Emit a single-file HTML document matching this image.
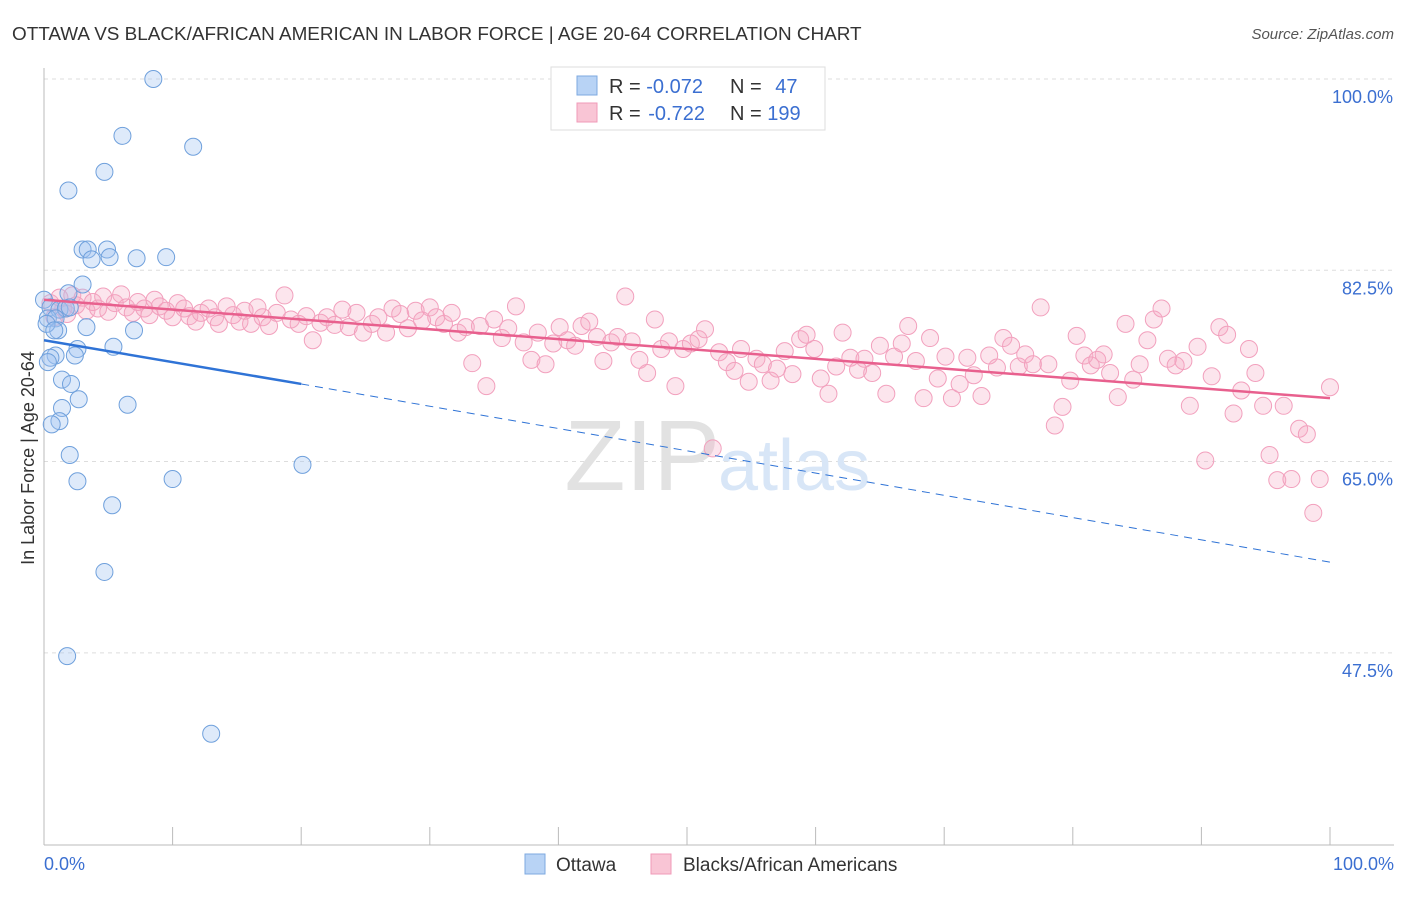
<!DOCTYPE html>
<html><head><meta charset="utf-8"><style>
body{margin:0;background:#fff;font-family:"Liberation Sans",sans-serif}
svg text{font-family:"Liberation Sans",sans-serif}
</style></head><body>
<svg id="chart" width="1406" height="892">
<text x="12" y="40" font-size="18.9" fill="#333">OTTAWA VS BLACK/AFRICAN AMERICAN IN LABOR FORCE | AGE 20-64 CORRELATION CHART</text>
<text x="1394" y="39" font-size="15" fill="#555" font-style="italic" text-anchor="end">Source: ZipAtlas.com</text>
<text x="34" y="458" font-size="18" fill="#333" text-anchor="middle" transform="rotate(-90 34 458)">In Labor Force | Age 20-64</text>
<g id="grid"></g>
<text x="720" y="490" font-size="100" fill="#e2e2e2" font-family="Liberation Serif" text-anchor="end">ZIP</text>
<text x="718" y="490" font-size="72" fill="#d8e6f7">atlas</text>
<g id="marks"></g>
<g>
<rect x="551" y="67" width="274" height="63" fill="#fff" stroke="#ddd"/>
<rect x="577" y="76" width="20" height="19" fill="#b8d3f5" stroke="#7ea9e0"/>
<rect x="577" y="103" width="20" height="19" fill="#f9c5d5" stroke="#f09ab8"/>
<text x="609" y="93" font-size="20" fill="#333">R = <tspan fill="#3b6fd1">-0.072</tspan></text>
<text x="730" y="93" font-size="20" fill="#333">N = <tspan fill="#3b6fd1" dx="8">47</tspan></text>
<text x="609" y="120" font-size="20" fill="#333">R = <tspan fill="#3b6fd1" dx="2">-0.722</tspan></text>
<text x="730" y="120" font-size="20" fill="#333">N = <tspan fill="#3b6fd1">199</tspan></text>
</g>
<g>
<rect x="525" y="854" width="20" height="20" fill="#b8d3f5" stroke="#7ea9e0"/>
<text x="556" y="871" font-size="19" fill="#333">Ottawa</text>
<rect x="651" y="854" width="20" height="20" fill="#f9c5d5" stroke="#f09ab8"/>
<text x="683" y="871" font-size="19" fill="#333">Blacks/African Americans</text>
</g>
<text x="44" y="870" font-size="18" fill="#3b6fd1">0.0%</text>
<text x="1394" y="870" font-size="18" fill="#3b6fd1" text-anchor="end">100.0%</text>
</svg>
<script>
const yTicks=[100,82.5,65,47.5];
const yTickLabels=["100.0%","82.5%","65.0%","47.5%"];
const xTicks=[0,10,20,30,40,50,60,70,80,90,100];
const ottawaX=[8.5,6.1,11.6,4.7,1.9,3.0,3.4,4.9,3.7,5.1,7.2,9.5,3.0,1.9,0,0.5,1.2,1.7,2.0,0.3,0.9,1.1,3.3,7,5.4,2.6,0.9,0.5,2.4,0.3,1.4,2.1,2.7,6.5,1.4,1.2,0.6,2.0,2.6,10,20.1,5.3,4.7,1.8,13,0.2,0.8];
const ottawaY=[100,94.8,93.8,91.5,89.8,84.4,84.4,84.4,83.5,83.7,83.6,83.7,81.2,80.4,79.8,79.1,78.9,79,79.1,78.1,78.1,77,77.3,77,75.5,75.3,74.7,74.5,74.7,74.1,72.5,72.1,70.7,70.2,69.9,68.7,68.4,65.6,63.2,63.4,64.7,61,54.9,47.2,40.1,77.6,77];
const blackPts=[[0.5,79.5],[0.8,78.2],[1.2,80],[1.5,79],[1.8,78.5],[2.2,80.2],[2.5,79.3],[3,80],[3.3,78.8],[3.8,79.6],[4.2,79],[4.6,80.1],[5,78.7],[5.5,79.5],[6,80.3],[6.4,79.1],[6.9,78.6],[7.3,79.6],[7.8,79],[8.2,78.4],[8.6,79.8],[9,79.2],[9.5,78.8],[10,78.2],[10.4,79.5],[10.9,79],[11.3,78.3],[11.8,77.8],[12.2,78.6],[12.8,79],[13.3,78.2],[13.6,77.6],[14.2,79.2],[14.7,78.4],[15.2,77.8],[15.6,78.8],[16.1,77.6],[16.6,79.1],[17,78.2],[17.5,77.4],[18.1,78.6],[18.7,80.2],[19.2,78],[19.8,77.6],[20.4,78.3],[20.9,76.1],[21.5,77.7],[22,78.2],[22.6,77.5],[23.2,78.9],[23.7,77.3],[24.3,78.6],[24.8,76.8],[25.5,77.6],[26,78.2],[26.6,76.8],[27.1,79],[27.7,78.5],[28.3,77.2],[28.9,78.8],[29.4,77.9],[30,79.1],[30.5,78.2],[31.1,77.6],[31.7,78.6],[32.2,76.8],[32.8,77.3],[33.3,74],[33.9,77.4],[34.4,71.9],[35,78],[35.6,76.3],[36.1,77.2],[36.7,79.2],[37.3,75.9],[37.9,74.3],[38.4,76.8],[39,73.9],[39.6,75.8],[40.1,77.3],[40.7,76.1],[41.3,75.6],[41.8,77.4],[42.4,77.8],[43,76.4],[43.5,74.2],[44.1,75.9],[44.6,76.4],[45.2,80.1],[45.7,76],[46.3,74.3],[46.9,73.1],[47.5,78],[48,75.3],[48.6,76],[49.1,71.9],[49.7,75.3],[50.3,75.8],[50.9,76.2],[51.4,77.1],[52,66.2],[52.5,75],[53.1,74.1],[53.7,73.3],[54.2,75.3],[54.8,72.3],[55.4,74.4],[55.9,73.9],[56.5,72.4],[57,73.5],[57.6,75.1],[58.2,73],[58.8,76.2],[59.3,76.6],[59.9,75.3],[60.4,72.6],[61,71.2],[61.6,73.7],[62.1,76.8],[62.7,74.5],[63.3,73.4],[63.8,74.4],[64.4,73.1],[65,75.6],[65.5,71.2],[66.1,74.6],[66.7,75.8],[67.2,77.4],[67.8,74.2],[68.4,70.8],[68.9,76.3],[69.5,72.6],[70.1,74.6],[70.6,70.8],[71.2,72.1],[71.8,74.5],[72.3,72.9],[72.9,71],[73.5,74.7],[74.1,73.6],[74.6,76.3],[75.2,75.6],[75.8,73.7],[76.3,74.8],[76.9,73.9],[77.5,79.1],[78.1,73.9],[78.6,68.3],[79.2,70],[79.8,72.4],[80.3,76.5],[80.9,74.7],[81.4,73.8],[81.9,74.3],[82.4,74.8],[82.9,73.1],[83.5,70.9],[84.1,77.6],[84.7,72.5],[85.2,73.9],[85.8,76.1],[86.3,78],[86.9,79],[87.4,74.4],[88,73.8],[88.6,74.2],[89.1,70.1],[89.7,75.5],[90.3,65.1],[90.8,72.8],[91.4,77.3],[92,76.6],[92.5,69.4],[93.1,71.5],[93.7,75.3],[94.2,73.1],[94.8,70.1],[95.3,65.6],[95.9,63.3],[96.4,70.1],[97,63.4],[97.6,68],[98.2,67.5],[98.7,60.3],[99.2,63.4],[100,71.8]];
const ottawaTrend=[76.1,72.1,55.8];
const blackTrend=[79.8,70.8];

const NS="http://www.w3.org/2000/svg";
const X=v=>44+v*12.86;
const Y=v=>79+(100-v)*10.93;
function mk(tag,attrs,parent){const e=document.createElementNS(NS,tag);for(const k in attrs)e.setAttribute(k,attrs[k]);parent.appendChild(e);return e;}
const grid=document.getElementById('grid'),marks=document.getElementById('marks');
yTicks.forEach((t,i)=>{
 const l=mk('line',{x1:44,x2:1394,y1:Y(t),y2:Y(t),stroke:'#ddd','stroke-dasharray':'4 4'},grid);
 
 
 const tx=mk('text',{x:1393,y:Y(t)+24,'font-size':18,fill:'#3b6fd1','text-anchor':'end'},grid);
 tx.textContent=yTickLabels[i];
 
 
});
const ax=mk('line',{x1:44,x2:44,y1:68,y2:845,stroke:'#bbb'},grid);


const bx=mk('line',{x1:44,x2:1394,y1:845,y2:845,stroke:'#bbb'},grid);


xTicks.forEach(t=>{
 const l=mk('line',{x1:X(t),x2:X(t),y1:827,y2:845,stroke:'#bbb'},grid);
 
 
});
blackPts.forEach(p=>{
 const c=mk('circle',{cx:X(p[0]),cy:Y(p[1]),r:8.5,fill:'rgba(246,170,196,0.3)',stroke:'#f2a0bd','stroke-width':1},marks);
 
 
});
ottawaX.forEach((x,i)=>{
 const c=mk('circle',{cx:X(x),cy:Y(ottawaY[i]),r:8.5,fill:'rgba(160,196,240,0.35)',stroke:'#6fa0dc','stroke-width':1},marks);
 
 
});
const bt=mk('line',{x1:X(0),y1:Y(blackTrend[0]),x2:X(100),y2:Y(blackTrend[1]),stroke:'#e8608e','stroke-width':2.5},marks);


const ot=mk('line',{x1:X(0),y1:Y(ottawaTrend[0]),x2:X(20),y2:Y(ottawaTrend[1]),stroke:'#2f73d6','stroke-width':2.5},marks);


const od=mk('line',{x1:X(20),y1:Y(ottawaTrend[1]),x2:X(100),y2:Y(ottawaTrend[2]),stroke:'#2f73d6','stroke-width':1,'stroke-dasharray':'8 6'},marks);


</script>
</body></html>
